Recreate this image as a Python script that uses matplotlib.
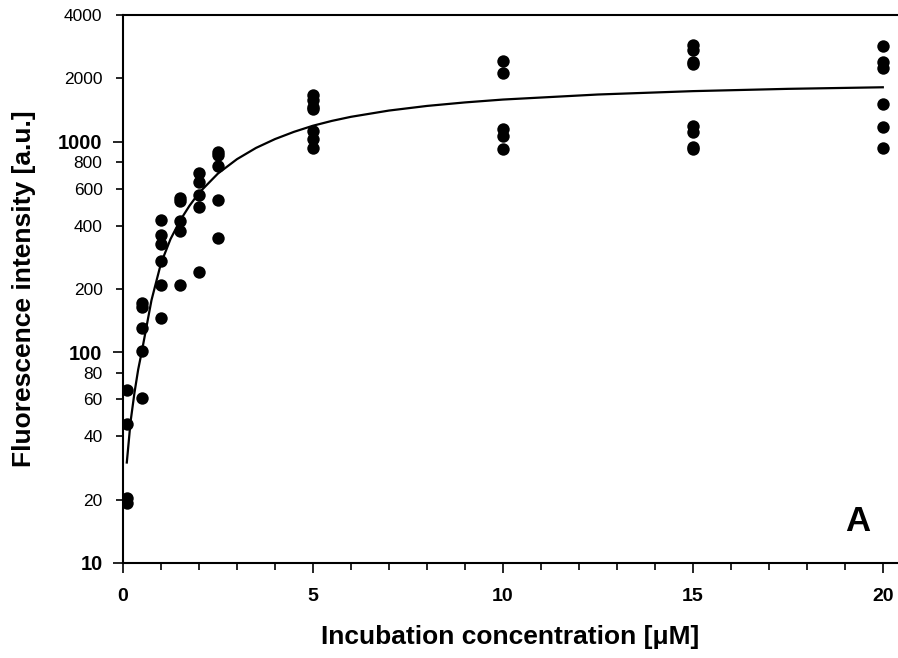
import matplotlib
matplotlib.use("Agg")
import matplotlib.pyplot as plt
from matplotlib.ticker import FixedLocator, FixedFormatter

plt.rcParams['font.family'] = ['Liberation Sans', 'DejaVu Sans']

# Measured data: concentration -> list of fluorescence values
conc = [0.1, 0.5, 1.0, 1.5, 2.0, 2.5, 5.0, 10.0, 15.0, 20.0]
values = [
    [66, 45.5, 20.3, 19.2],
    [171, 164, 131, 101, 61],
    [427, 362, 327, 273, 208, 146],
    [540, 525, 419, 379, 208],
    [708, 641, 561, 492, 242],
    [890, 865, 769, 531, 348],
    [1670, 1580, 1470, 1430, 1127, 1030, 933],
    [2420, 2130, 1145, 1066, 922],
    [2884, 2730, 2394, 2336, 1183, 1113, 940, 920],
    [2851, 2394, 2250, 1511, 1170, 933],
]

# Fitted curve
curve_x = [0.1, 0.2, 0.3, 0.4, 0.5, 0.75, 1.0, 1.25, 1.5, 1.75, 2.0, 2.5, 3.0,
           3.5, 4.0, 4.5, 5.0, 5.5, 6.0, 7.0, 8.0, 9.0, 10.0, 12.5, 15.0,
           17.5, 20.0]
curve_y = [30, 47, 64, 83, 102, 177, 265, 345, 422, 497, 572, 707, 827,
           935, 1030, 1115, 1192, 1257, 1314, 1407, 1480, 1538, 1587, 1677,
           1740, 1784, 1815]

y_major = [10, 100, 1000]
y_minor = [20, 40, 60, 80, 200, 400, 600, 800, 2000, 4000]
x_major = [0, 5, 10, 15, 20]
x_minor = [1, 2, 3, 4, 6, 7, 8, 9, 11, 12, 13, 14, 16, 17, 18, 19]

fig = plt.figure(figsize=(8.98, 6.58), dpi=100)
ax = fig.add_axes([123/898, 1 - 563/658, 775/898, (563 - 15)/658])

xs, ys = [], []
for c, vals in zip(conc, values):
    xs += [c] * len(vals)
    ys += vals
ax.scatter(xs, ys, s=80, color='black', zorder=3, linewidths=0)
ax.plot(curve_x, curve_y, color='black', lw=1.6, zorder=2)

ax.set_yscale('log')
ax.set_xlim(0, 20.4)
ax.set_ylim(10, 4000)

ax.yaxis.set_major_locator(FixedLocator(y_major))
ax.yaxis.set_major_formatter(FixedFormatter([str(v) for v in y_major]))
ax.yaxis.set_minor_locator(FixedLocator(y_minor))
ax.yaxis.set_minor_formatter(FixedFormatter([str(v) for v in y_minor]))
ax.xaxis.set_major_locator(FixedLocator(x_major))
ax.xaxis.set_major_formatter(FixedFormatter([str(v) for v in x_major]))
ax.xaxis.set_minor_locator(FixedLocator(x_minor))

for s in ['left', 'bottom', 'top']:
    ax.spines[s].set_linewidth(1.5)
ax.spines['right'].set_visible(False)

ax.tick_params(axis='both', which='major', direction='out', length=7.2, width=1.2)
ax.tick_params(axis='both', which='minor', direction='out', length=5, width=1.2)
ax.tick_params(axis='y', which='major', pad=7.5, labelsize=14.5)
ax.tick_params(axis='y', which='minor', pad=9.7, labelsize=12.5)
ax.tick_params(axis='x', which='major', pad=11, labelsize=14)
ax.tick_params(top=False, right=False, which='both')

for lab in ax.get_yticklabels():
    lab.set_fontweight('bold')
for lab in ax.get_xticklabels():
    lab.set_fontweight('bold')

ax.set_xlabel('Incubation concentration [μM]', fontsize=19, fontweight='bold', labelpad=14)
ax.set_ylabel('Fluorescence intensity [a.u.]', fontsize=19, fontweight='bold', labelpad=16)

ax.text(19.34, 15.8, 'A', fontsize=25, fontweight='bold', ha='center', va='center')

fig.savefig('out.png', dpi=100)
